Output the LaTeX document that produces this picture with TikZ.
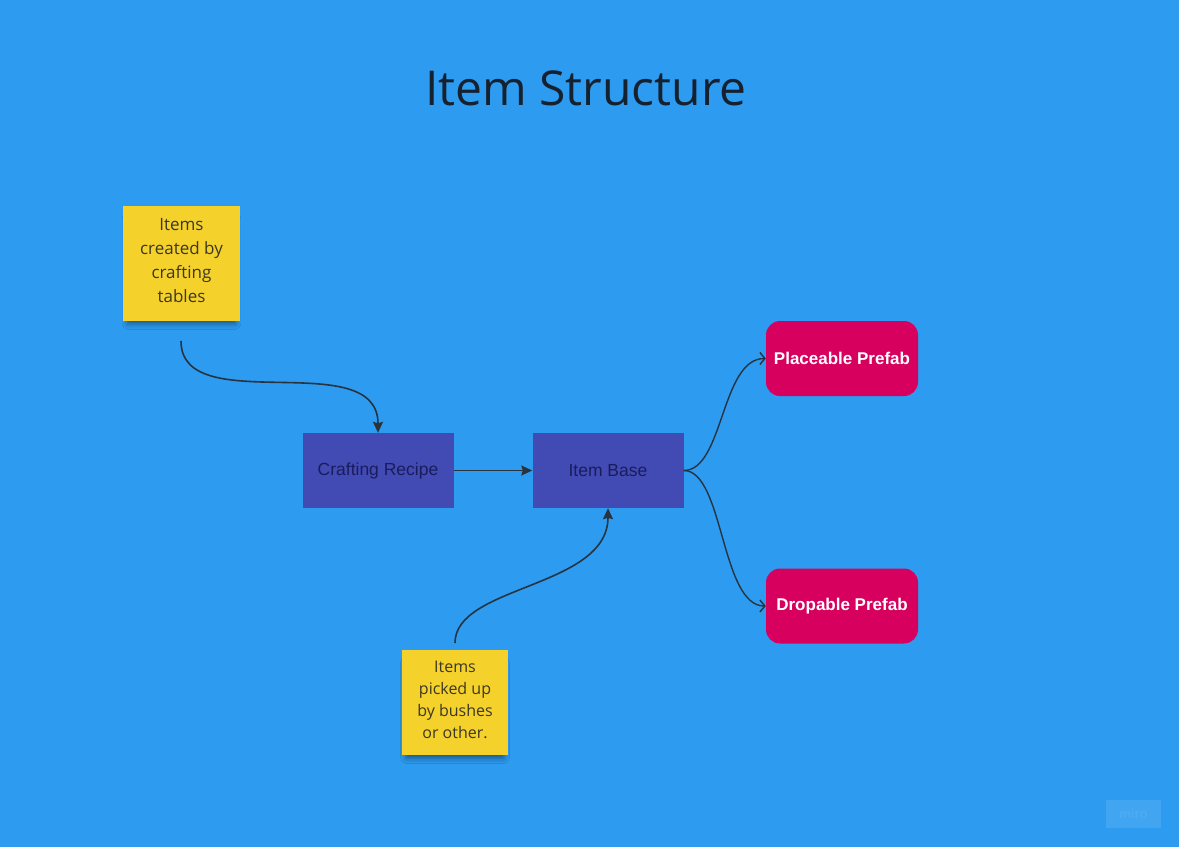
\documentclass[tikz,border=0pt]{standalone}
\usepackage{fontspec}
\setmainfont{Open Sans}
\newfontfamily\arialfont{Liberation Sans}
\usepackage{tikz}
\usetikzlibrary{arrows.meta, shadows.blur}
\usepackage{xcolor}
\definecolor{boardblue}{HTML}{2D9BF0}
\definecolor{titleink}{HTML}{16212F}
\definecolor{stickyyellow}{HTML}{F5D12C}
\definecolor{stickyink}{HTML}{3B3824}
\definecolor{boxblue}{HTML}{424AB3}
\definecolor{boxink}{HTML}{1A1D5C}
\definecolor{prefabpink}{HTML}{D7005F}
\definecolor{wireink}{HTML}{27343F}

\begin{document}
\begin{tikzpicture}[x=1pt, y=-1pt,
  sticky/.style={fill=stickyyellow, align=center, text=stickyink, inner sep=0pt, text depth=6pt,
    blur shadow={shadow xshift=0pt, shadow yshift=-8pt, shadow blur radius=6pt,
      shadow opacity=45, shadow scale=0.92}},
  block/.style={fill=boxblue, text=boxink, minimum width=151pt, minimum height=75pt,
    font=\arialfont\fontsize{17.5}{20}\selectfont},
  prefab/.style={fill=prefabpink, text=white, rounded corners=14pt,
    minimum width=152pt, minimum height=75pt, font=\arialfont\bfseries\fontsize{17}{20}\selectfont},
  flow/.style={-{Stealth[length=11pt, width=10pt, inset=1.5pt]}, line width=1.6pt, wireink},
  branch/.style={-{Straight Barb[length=5pt, width=12pt]}, line width=1.4pt, wireink}
]
  \fill[boardblue] (0,0) rectangle (1179,847);

  \node[text=titleink, font=\fontsize{48}{56}\selectfont] (title) at (586,88) {Item Structure};

  \node[sticky, minimum width=117pt, minimum height=115pt, font=\fontsize{17}{24}\selectfont]
    (tables) at (181.5,263.5) {Items\\created by\\crafting\\tables};
  \node[sticky, minimum width=106pt, minimum height=105pt, font=\fontsize{16}{22}\selectfont]
    (bushes) at (455,702.5) {Items\\picked up\\by bushes\\or other.};

  \node[block] (recipe) at (378,470.5) {Crafting Recipe};
  \node[block] (base) at (608,470.5) {Item Base};
  \node[prefab] (placeable) at (842,358.5) {Placeable Prefab};
  \node[prefab] (dropable) at (842,606) {Dropable Prefab};

  \node[fill=white, fill opacity=0.1, text opacity=0.07, text=white, minimum width=55pt,
    minimum height=28pt, font=\arialfont\bfseries\fontsize{13}{14}\selectfont]
    (watermark) at (1133.5,814) {miro};

  \coordinate (tablesout) at (181,341);
  \coordinate (bushesout) at (455,643);

  \draw[flow] (tablesout) .. controls +(0,79) and +(0,-88) .. (recipe.north);
  \draw[flow] (recipe.east) -- (base.west);
  \draw[flow] (bushesout) .. controls +(0,-58) and +(0,80) .. (base.south);
  \draw[branch] (base.east) .. controls +(40,0) and +(-45,0) .. (placeable.west);
  \draw[branch] (base.east) .. controls +(40,0) and +(-45,0) .. (dropable.west);
\end{tikzpicture}
\end{document}
